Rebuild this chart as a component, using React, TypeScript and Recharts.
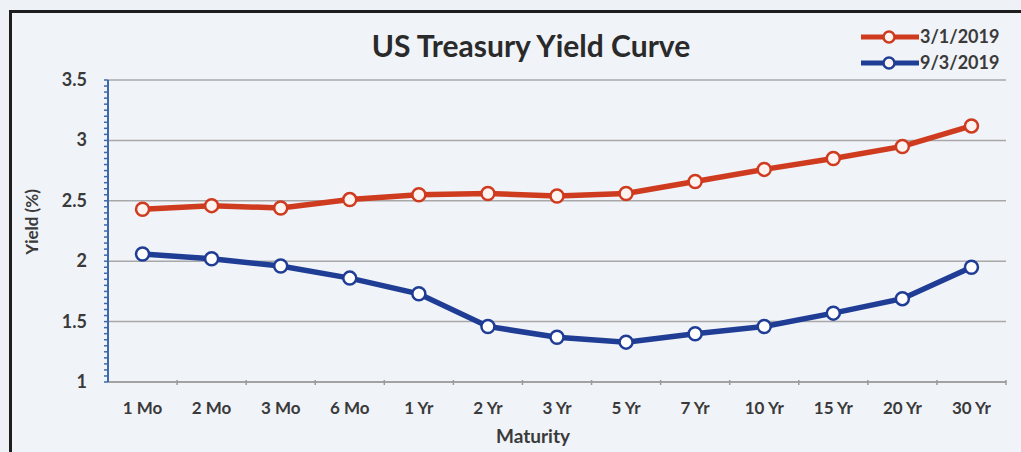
import React from "react";
import { LineChart, Line, XAxis, YAxis, CartesianGrid } from "recharts";

const maturities = ["1 Mo", "2 Mo", "3 Mo", "6 Mo", "1 Yr", "2 Yr", "3 Yr", "5 Yr", "7 Yr", "10 Yr", "15 Yr", "20 Yr", "30 Yr"];
const yieldsMar2019 = [2.43, 2.46, 2.44, 2.51, 2.55, 2.56, 2.54, 2.56, 2.66, 2.76, 2.85, 2.95, 3.12];
const yieldsSep2019 = [2.06, 2.02, 1.96, 1.86, 1.73, 1.46, 1.37, 1.33, 1.40, 1.46, 1.57, 1.69, 1.95];
const majorTicks = [1, 1.5, 2, 2.5, 3, 3.5];
const seriesNames = ["3/1/2019", "9/3/2019"];

const minorTicks: number[] = [];
for (let i = 0; i <= 50; i++) minorTicks.push(Math.round((1 + i * 0.05) * 100) / 100);

const data = maturities.map((m, i) => ({ m, a: yieldsMar2019[i], b: yieldsSep2019[i] }));

const FONT = "Lato, 'Open Sans', sans-serif";
const RED = "#cf3b1f";
const BLUE = "#1f3d95";
const TXT = "#3a3a3a";

const YTick = (props: any) => {
  const { x, y, payload } = props;
  const v = Math.round(payload.value * 100) / 100;
  if (!majorTicks.includes(v)) return null;
  return (
    <text x={x} y={y} dy={6} textAnchor="end" fontFamily={FONT} fontWeight={700} fontSize={18} fill={TXT}>
      {String(v)}
    </text>
  );
};

const XTick = (props: any) => {
  const { x, y, payload, width } = props;
  const half = width / maturities.length / 2;
  return (
    <g>
      <line x1={x + half} x2={x + half} y1={y - 10} y2={y - 5} stroke="#9a9a9a" strokeWidth={1.5} />
      <text x={x} y={y} dy={24} textAnchor="middle" fontFamily={FONT} fontWeight={700} fontSize={17} fill={TXT}>
        {payload.value}
      </text>
    </g>
  );
};

const colors = [RED, BLUE];

export default function App() {
  return (
    <div style={{ position: "fixed", left: 0, top: 0, width: 1021, height: 452, background: "#eef2f7", overflow: "hidden" }}>
      <div style={{ position: "absolute", left: 9, top: 10, width: 1040, height: 500, borderLeft: "3px solid #1e1e1e", borderTop: "3px solid #1e1e1e", background: "#f0f3f8" }} />
      <div style={{ position: "absolute", left: 0, top: 0 }}>
        <LineChart width={1021} height={452} data={data} margin={{ top: 80, right: 15, left: 0, bottom: 0 }}>
          <CartesianGrid vertical={false} horizontalValues={majorTicks} stroke="#a8a8a8" strokeWidth={1.5} />
          <XAxis
            dataKey="m"
            height={70}
            scale="band"
            axisLine={{ stroke: "#9a9a9a", strokeWidth: 1.5 }}
            tickLine={false}
            interval={0}
            tick={<XTick />}
          />
          <YAxis
            domain={[1, 3.5]}
            ticks={minorTicks}
            interval={0}
            width={108}
            tickSize={4}
            tickMargin={17}
            axisLine={{ stroke: "#3d68ad", strokeWidth: 2 }}
            tickLine={{ stroke: "#3d68ad", strokeWidth: 1.5 }}
            tick={<YTick />}
            allowDataOverflow
          />
          <Line name={seriesNames[0]} dataKey="a" stroke={RED} strokeWidth={5.5} isAnimationActive={false}
            dot={{ r: 6.5, fill: "#fdf3f0", stroke: RED, strokeWidth: 2.5 }} />
          <Line name={seriesNames[1]} dataKey="b" stroke={BLUE} strokeWidth={5.5} isAnimationActive={false}
            dot={{ r: 6.5, fill: "#ffffff", stroke: BLUE, strokeWidth: 2.5 }} />
          {seriesNames.map((n, i) => (
            <g key={n}>
              <line x1={861} x2={919} y1={37 + i * 26} y2={37 + i * 26} stroke={colors[i]} strokeWidth={5} />
              <circle cx={889} cy={37 + i * 26} r={5.5} fill="#fdf3f0" stroke={colors[i]} strokeWidth={2.5} />
              <text x={920} y={43 + i * 26} fontFamily={FONT} fontWeight={700} fontSize={18} fill={TXT}>{n}</text>
            </g>
          ))}
          <text x={531} y={57} textAnchor="middle" fontFamily={FONT} fontWeight={700} fontSize={30} fill="#2a2a2a">
            US Treasury Yield Curve
          </text>
          <text x={533} y={443} textAnchor="middle" fontFamily={FONT} fontWeight={700} fontSize={19} fill={TXT}>
            Maturity
          </text>
          <text x={38} y={222} textAnchor="middle" fontFamily={FONT} fontWeight={700} fontSize={17} fill={TXT} transform="rotate(-90 38 222)">
            Yield (%)
          </text>
        </LineChart>
      </div>
    </div>
  );
}
